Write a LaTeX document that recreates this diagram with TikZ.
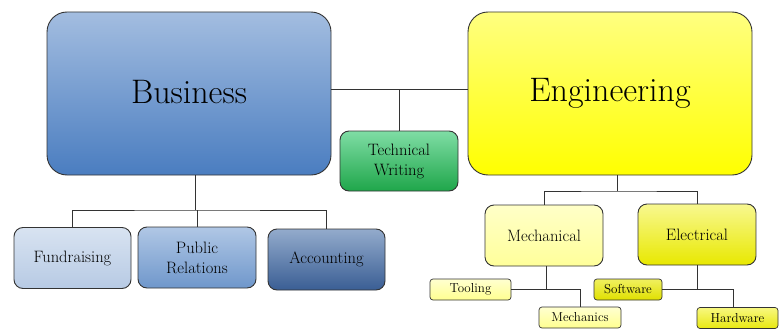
\documentclass[tikz,border=0pt]{standalone}
\usepackage{tikz}
\usetikzlibrary{positioning}

\definecolor{busTop}{HTML}{A3BDE0}
\definecolor{busBot}{HTML}{4A7DC0}
\definecolor{engTop}{HTML}{FFFF80}
\definecolor{engBot}{HTML}{FFFF00}
\definecolor{twTop}{HTML}{7FDDA5}
\definecolor{twBot}{HTML}{1FA64A}
\definecolor{fundTop}{HTML}{D8E3F1}
\definecolor{fundBot}{HTML}{B7CAE4}
\definecolor{prTop}{HTML}{B0C7E5}
\definecolor{prBot}{HTML}{6F97CB}
\definecolor{acctTop}{HTML}{93ABCC}
\definecolor{acctBot}{HTML}{3A5E94}
\definecolor{mechTop}{HTML}{FFFFC8}
\definecolor{mechBot}{HTML}{FFFF9A}
\definecolor{elecTop}{HTML}{F8F890}
\definecolor{elecBot}{HTML}{E8E800}
\definecolor{paleTop}{HTML}{FFFFD0}
\definecolor{paleBot}{HTML}{FFFF90}
\definecolor{softTop}{HTML}{F0F060}
\definecolor{softBot}{HTML}{E0E000}
\definecolor{hardTop}{HTML}{F8F880}
\definecolor{hardBot}{HTML}{E8E810}
\definecolor{edge}{HTML}{333333}

\begin{document}
\begin{tikzpicture}[
      x=1pt, y=-1pt,
      topbox/.style={draw=edge, line width=0.9pt, rounded corners=20pt, minimum width=284pt, minimum height=163pt, font=\fontsize{34}{36}\selectfont},
      subbox/.style={draw=edge, line width=0.9pt, rounded corners=9pt, minimum width=118pt, minimum height=61pt, align=center, font=\fontsize{16.5}{20}\selectfont},
      leafbox/.style={draw=edge, line width=0.7pt, rounded corners=3pt, minimum height=21pt, inner sep=1pt, font=\fontsize{13}{15}\selectfont},
      link/.style={draw=edge, line width=0.9pt}
    ]
      \useasboundingbox (0,0) rectangle (783,329);

      % Main areas
      \node[topbox, top color=busTop, bottom color=busBot] (bus) at (189,93.5) {\raisebox{3pt}{Business}};
      \node[topbox, top color=engTop, bottom color=engBot] (eng) at (610,93.5) {\raisebox{3pt}{Engineering}};
      \node[subbox, minimum height=60pt, top color=twTop, bottom color=twBot] (tw) at (399,161) {Technical\\Writing};

      % Business branch
      \node[subbox, minimum width=117pt, top color=fundTop, bottom color=fundBot] (fund) at (72.5,258) {Fundraising};
      \node[subbox, top color=prTop, bottom color=prBot] (pr) at (197,257.5) {Public\\Relations};
      \node[subbox, minimum width=117pt, top color=acctTop, bottom color=acctBot] (acct) at (326.5,259.5) {Accounting};

      % Engineering branch
      \node[subbox, top color=mechTop, bottom color=mechBot] (mech) at (544,235.5) {Mechanical};
      \node[subbox, top color=elecTop, bottom color=elecBot] (elec) at (697,234.5) {Electrical};
      \node[leafbox, minimum width=81pt, top color=paleTop, bottom color=paleBot] (tool) at (470.5,289.5) {Tooling};
      \node[leafbox, minimum width=82pt, top color=paleTop, bottom color=paleBot] (mecs) at (580,317.5) {Mechanics};
      \node[leafbox, minimum width=68pt, top color=softTop, bottom color=softBot] (soft) at (628,289.5) {Software};
      \node[leafbox, minimum width=81pt, top color=hardTop, bottom color=hardBot] (hard) at (737.5,318) {Hardware};

      % Junctions
      \coordinate (top) at (399,89);
      \coordinate (busj) at (195,210);
      \coordinate (engj) at (617,191);

      % Connectors
      \draw[link] (bus.east |- top) -- (eng.west |- top);
      \draw[link] (tw.north) -- (top);
      \draw[link] (bus.south -| busj) -- (busj);
      \draw[link] (fund.north) |- (busj) -| (acct.north);
      \draw[link] (pr.north) -- (pr.north |- busj);
      \draw[link] (eng.south -| engj) -- (engj);
      \draw[link] (mech.north) |- (engj) -| (elec.north);
      \draw[link] ([xshift=2pt]mech.south) -- ([xshift=2pt]mech.south |- tool.east);
      \draw[link] (tool.east) -| (mecs.north);
      \draw[link] (elec.south) -- (elec.south |- soft.east);
      \draw[link] (soft.east) -| ([xshift=-4pt]hard.north);
    \end{tikzpicture}
\end{document}
